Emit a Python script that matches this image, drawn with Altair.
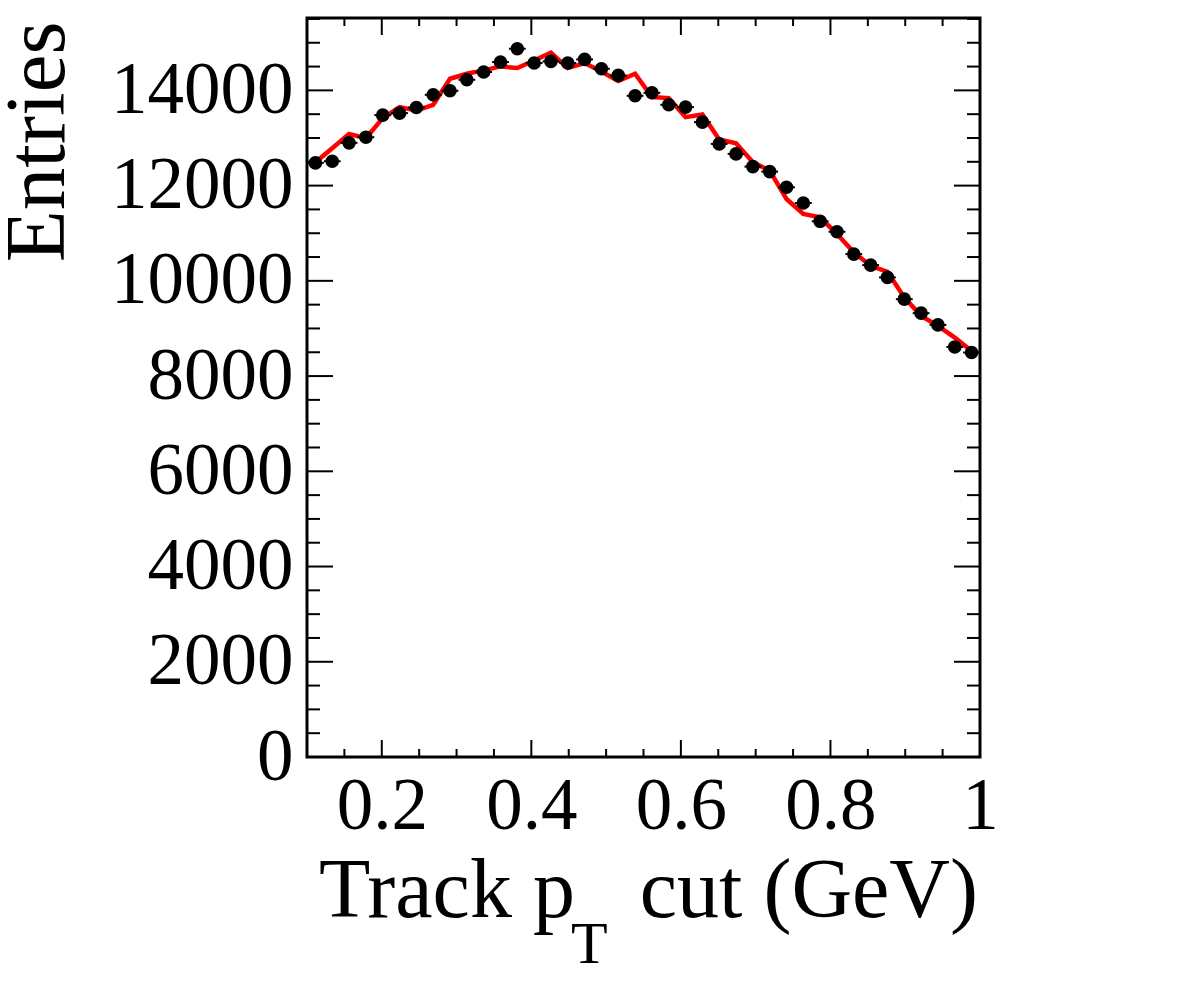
import altair as alt
import pandas as pd

# Histogram binning of the track pT cut (GeV)
pt_lo, pt_hi, n_bins = 0.1, 1.0, 40
bin_w = (pt_hi - pt_lo) / n_bins
pt_cut = [pt_lo + (i + 0.5) * bin_w for i in range(n_bins)]

# Measured entries per bin (black points)
entries = [12477, 12512, 12898, 13017, 13480, 13522, 13640, 13907, 13992, 14223,
           14385, 14595, 14875, 14574, 14608, 14574, 14650, 14454, 14314, 13886,
           13949, 13697, 13649, 13333, 12876, 12666, 12399, 12294, 11965, 11635,
           11250, 11031, 10562, 10331, 10072, 9615, 9321, 9075, 8612, 8494]

# Reference curve (red line)
reference = [12491, 12786, 13087, 12996, 13417, 13649, 13577, 13697, 14244, 14349,
             14419, 14503, 14469, 14629, 14791, 14469, 14574, 14398, 14196, 14349,
             13859, 13838, 13438, 13493, 12967, 12891, 12491, 12315, 11719, 11404,
             11334, 10983, 10598, 10316, 10190, 9651, 9264, 9054, 8809, 8527]

# Axis ticks
x_major = [0.2, 0.4, 0.6, 0.8, 1.0]
x_minor = [0.15, 0.25, 0.3, 0.35, 0.45, 0.5, 0.55, 0.65, 0.7, 0.75, 0.85, 0.9, 0.95]
y_major = [0, 2000, 4000, 6000, 8000, 10000, 12000, 14000]
y_minor = [500, 1000, 1500, 2500, 3000, 3500, 4500, 5000, 5500, 6500, 7000, 7500,
           8500, 9000, 9500, 10500, 11000, 11500, 12500, 13000, 13500, 14500, 15000, 15500]
y_max = 15520

W, H = 673, 739
FONT = "Liberation Serif"

points = pd.DataFrame({
    "x": pt_cut,
    "y": entries,
    "xlo": [v - bin_w / 2 for v in pt_cut],
    "xhi": [v + bin_w / 2 for v in pt_cut],
    "ylo": [e - e ** 0.5 for e in entries],
    "yhi": [e + e ** 0.5 for e in entries],
})
curve = pd.DataFrame({"x": pt_cut, "y": reference})

xs = alt.Scale(domain=[pt_lo, pt_hi], nice=False, zero=False)
ys = alt.Scale(domain=[0, y_max], nice=False, zero=False)

x_axis = alt.Axis(values=x_major, format="~g", title=None, ticks=False, domain=False,
                  grid=False, labelFont=FONT, labelFontSize=73, labelColor="black",
                  labelPadding=13, labelFlush=False, labelOverlap=False,
                  labelBaseline="top", labelLimit=0)
y_axis = alt.Axis(values=y_major, format="d", title="Entries", titleFont=FONT,
                  titleFontSize=85, titleFontWeight="normal", titleColor="black",
                  titleAngle=270, titleAlign="right", titleBaseline="alphabetic",
                  titleX=-244, titleY=3, titleLimit=0, ticks=False, domain=False,
                  grid=False, labelFont=FONT, labelFontSize=73, labelColor="black",
                  labelPadding=14, labelAlign="right", labelBaseline="middle",
                  labelFlush=False, labelOverlap=False, labelLimit=0)

X = alt.X("x:Q", scale=xs, axis=x_axis)
Y = alt.Y("y:Q", scale=ys, axis=y_axis)

line = alt.Chart(curve).mark_line(color="#ff0000", strokeWidth=4.5).encode(x=X, y=Y)

xerr = alt.Chart(points).mark_rule(color="black", strokeWidth=2).encode(
    x=alt.X("xlo:Q", scale=xs, axis=x_axis), x2="xhi:Q", y=Y)
yerr = alt.Chart(points).mark_rule(color="black", strokeWidth=2).encode(
    x=X, y=alt.Y("ylo:Q", scale=ys, axis=y_axis), y2="yhi:Q")
dots = alt.Chart(points).mark_circle(color="black", opacity=1, size=185).encode(x=X, y=Y)


def x_ticks(vals, length):
    df = pd.DataFrame({"x": vals})
    bottom = alt.Chart(df).mark_rule(color="black", strokeWidth=2).encode(
        x=X, y=alt.value(H), y2=alt.value(H - length))
    top = alt.Chart(df).mark_rule(color="black", strokeWidth=2).encode(
        x=X, y=alt.value(0), y2=alt.value(length))
    return [bottom, top]


def y_ticks(vals, length):
    df = pd.DataFrame({"y": vals})
    left = alt.Chart(df).mark_rule(color="black", strokeWidth=2).encode(
        y=Y, x=alt.value(0), x2=alt.value(length))
    right = alt.Chart(df).mark_rule(color="black", strokeWidth=2).encode(
        y=Y, x=alt.value(W), x2=alt.value(W - length))
    return [left, right]


ticks = x_ticks(x_major, 17) + x_ticks(x_minor, 8) + y_ticks(y_major, 26) + y_ticks(y_minor, 13)

# x-axis title with a subscripted T in p_T
label_df = pd.DataFrame({"a": ["Track p"], "b": ["T"], "c": [" cut (GeV)"]})
t1 = alt.Chart(label_df).mark_text(font=FONT, fontSize=84, align="left",
                                   baseline="alphabetic", color="black").encode(
    text="a:N", x=alt.value(12), y=alt.value(899))
t2 = alt.Chart(label_df).mark_text(font=FONT, fontSize=60, align="left",
                                   baseline="alphabetic", color="black").encode(
    text="b:N", x=alt.value(264), y=alt.value(945))
t3 = alt.Chart(label_df).mark_text(font=FONT, fontSize=84, align="right",
                                   baseline="alphabetic", color="black").encode(
    text="c:N", x=alt.value(671), y=alt.value(899))

chart = alt.layer(line, xerr, yerr, dots, *ticks, t1, t2, t3).properties(
    width=W, height=H,
    autosize=alt.AutoSizeParams(type="none"),
    padding={"left": 307, "top": 18, "right": 202, "bottom": 227},
    background="white",
).configure_view(stroke="black", strokeWidth=3)

chart.save("out.html", embed_options={"renderer": "svg", "actions": False})
